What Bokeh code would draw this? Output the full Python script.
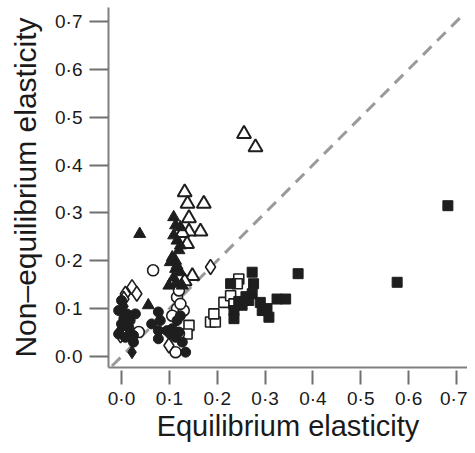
from bokeh.plotting import figure
from bokeh.models import Range1d, FixedTicker, CustomJSTickFormatter
from bokeh.embed import file_html
from bokeh.resources import INLINE

# Data
ot_x = [0.256, 0.280, 0.132, 0.138, 0.172, 0.141, 0.165, 0.141, 0.127, 0.137, 0.148, 0.132]
ot_y = [0.465, 0.437, 0.343, 0.319, 0.319, 0.289, 0.261, 0.261, 0.258, 0.235, 0.168, 0.157]

ft_x = [0.038, 0.056, 0.109, 0.113, 0.123, 0.109, 0.116, 0.123, 0.120, 0.106, 0.113, 0.102,
        0.113, 0.123, 0.099, 0.113, 0.127, 0.109, 0.116]
ft_y = [0.256, 0.107, 0.291, 0.274, 0.270, 0.253, 0.242, 0.232, 0.222, 0.207, 0.200, 0.197,
        0.183, 0.176, 0.148, 0.152, 0.148, 0.165, 0.190]

oc_x = [0.066, 0.036, 0.116, 0.116, 0.130, 0.123, 0.113, 0.120, 0.120, 0.106]
oc_y = [0.180, 0.051, 0.124, 0.100, 0.096, 0.110, 0.009, 0.047, 0.138, 0.085]

fc_x = [0.000, -0.006, 0.011, 0.029, 0.000, 0.015, -0.006, 0.008, 0.025, 0.025, 0.077, 0.063,
        0.077, 0.077, 0.081, 0.116, 0.120, 0.106, 0.127, 0.134, 0.095, 0.102, 0.113, 0.123,
        0.005, 0.018]
fc_y = [0.117, 0.096, 0.089, 0.089, 0.068, 0.061, 0.047, 0.040, 0.030, 0.044, 0.093, 0.068,
        0.054, 0.037, 0.075, 0.075, 0.051, 0.058, 0.030, 0.009, 0.054, 0.047, 0.040, 0.085,
        0.080, 0.075]

fd_x = [0.022, 0.005, 0.012, -0.003]
fd_y = [0.009, 0.105, 0.060, 0.055]

od_x = [0.186, 0.022, 0.032, 0.008, -0.002, 0.099, 0.005]
od_y = [0.187, 0.145, 0.131, 0.131, 0.044, 0.023, 0.120]

os_x = [0.186, 0.196, 0.193, 0.214, 0.228, 0.245, 0.242, 0.141, 0.137, 0.235]
os_y = [0.072, 0.072, 0.089, 0.113, 0.127, 0.162, 0.152, 0.065, 0.047, 0.110]

fs_x = [0.682, 0.576, 0.369, 0.273, 0.276, 0.228, 0.273, 0.266, 0.252, 0.235, 0.235, 0.294,
        0.308, 0.325, 0.343, 0.304, 0.290, 0.260, 0.245]
fs_y = [0.315, 0.155, 0.173, 0.176, 0.152, 0.152, 0.131, 0.117, 0.107, 0.096, 0.079, 0.096,
        0.082, 0.120, 0.120, 0.100, 0.113, 0.125, 0.115]

diag = [-0.02, 0.71]
ticks = [0.0, 0.1, 0.2, 0.3, 0.4, 0.5, 0.6, 0.7]
x_title = "Equilibrium elasticity"
y_title = "Non\u2013equilibrium elasticity"

p = figure(width=467, height=445, output_backend="svg", toolbar_location=None,
           x_range=Range1d(-0.0272, 0.723), y_range=Range1d(-0.023, 0.729),
           min_border_left=108, min_border_right=0, min_border_top=7, min_border_bottom=78)
p.grid.visible = False
p.outline_line_color = None
p.background_fill_color = "white"

p.line(diag, diag, line_color="#9a9a9a", line_width=3, line_dash="12 8")

ink = "#1e1e1e"
p.scatter(os_x, os_y, marker="square", size=10, fill_color="white", line_color=ink, line_width=1.6)
p.scatter(oc_x, oc_y, marker="circle", size=11, fill_color="white", line_color=ink, line_width=1.6)
p.scatter(od_x, od_y, marker="diamond", size=15, fill_color="white", line_color=ink, line_width=1.6)
p.scatter(ot_x, ot_y, marker="triangle", size=14, fill_color="white", line_color=ink, line_width=2)
p.scatter(fc_x, fc_y, marker="circle", size=10, fill_color=ink, line_color=ink)
p.scatter(fd_x, fd_y, marker="diamond", size=13, fill_color=ink, line_color=ink)
p.scatter(ft_x, ft_y, marker="triangle", size=12, fill_color=ink, line_color=ink)
p.scatter(fs_x, fs_y, marker="square", size=10, fill_color=ink, line_color=ink)

fmt = CustomJSTickFormatter(code="return tick.toFixed(1).replace('.', '\\u00b7');")
for ax in (p.xaxis[0], p.yaxis[0]):
    ax.ticker = FixedTicker(ticks=ticks)
    ax.formatter = fmt
    ax.minor_tick_line_color = None
    ax.axis_line_color = "#808080"
    ax.axis_line_width = 2
    ax.major_tick_line_color = "#707070"
    ax.major_tick_line_width = 2
    ax.major_label_text_font = "Liberation Sans"
    ax.major_label_text_font_size = "19px"
    ax.major_label_text_color = "#1a1a1a"
    ax.axis_label_text_font = "Liberation Sans"
    ax.axis_label_text_font_style = "normal"
    ax.axis_label_text_font_size = "30px"
    ax.axis_label_text_color = "#1a1a1a"

p.xaxis.axis_label = x_title
p.yaxis.axis_label = y_title
p.xaxis.axis_label_text_font_size = "29px"
p.xaxis.major_tick_in = -3
p.xaxis.major_tick_out = 17
p.xaxis.major_label_standoff = 3
p.xaxis.axis_label_standoff = -2
p.yaxis.major_tick_in = 0
p.yaxis.major_tick_out = 19
p.yaxis.major_label_standoff = 7
p.yaxis.axis_label_standoff = 10

open("out.html", "w").write(file_html(p, INLINE))
